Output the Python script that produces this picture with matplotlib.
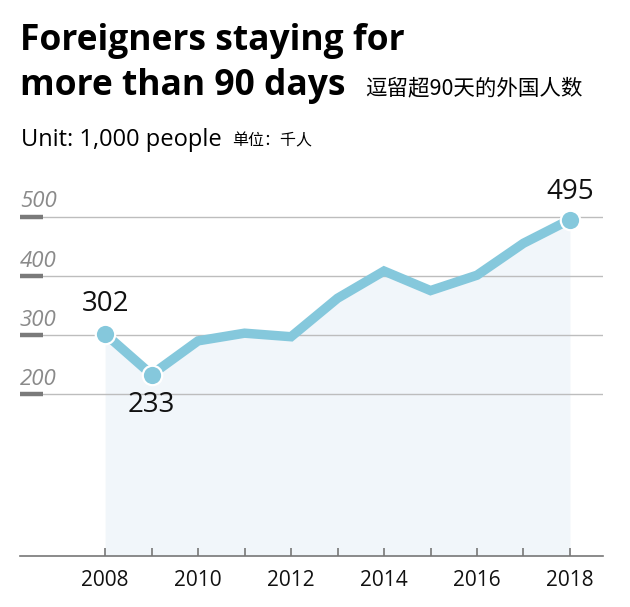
import matplotlib
matplotlib.use("Agg")
import matplotlib.pyplot as plt

# data (unit: 1,000 people)
years = [2008, 2009, 2010, 2011, 2012, 2013, 2014, 2015, 2016, 2017, 2018]
values = [302, 233, 290, 303, 297, 362, 408, 375, 401, 455, 495]
tick_years = [2008, 2010, 2012, 2014, 2016, 2018]
y_ticks = [200, 300, 400, 500]
labelled = {2008: "302", 2009: "233", 2018: "495"}

LINE = "#85c8dc"
FILL = "#f1f6fa"
GRID = "#bdbdbd"

plt.rcParams["font.family"] = ["Open Sans", "Noto Sans CJK SC", "DejaVu Sans"]

fig = plt.figure(figsize=(6.3, 6.07), dpi=100)
ax = fig.add_axes([20 / 630, 51 / 607, 583 / 630, 366 / 607])

ax.set_xlim(2006.17, 2018.71)
ax.set_ylim(-73.6, 545)

# horizontal guides with a short dark dash at the left
for v in y_ticks:
    ax.axhline(v, color=GRID, lw=1, zorder=1)
    ax.plot([2006.17, 2006.67], [v, v], color="#7a7a7a", lw=3.2,
            solid_capstyle="butt", zorder=2)
    ax.text(2006.17, v + 7, str(v), fontsize=16, style="italic",
            color="#8a8a8a", ha="left", va="bottom")

# area, line and end markers
ax.fill_between(years, values, -73.6, color=FILL, lw=0, zorder=0)
ax.plot(years, values, color=LINE, lw=6.8, solid_joinstyle="miter",
        solid_capstyle="butt", zorder=3)
mx = [y for y in years if y in labelled]
my = [values[years.index(y)] for y in mx]
ax.plot(mx, my, "o", color=LINE, ms=14, mec="white", mew=1.6, zorder=4)

offsets = {2008: 50, 2009: -52, 2018: 46}
for y, label in labelled.items():
    v = values[years.index(y)]
    ax.text(y, v + offsets[y], label, fontsize=20, ha="center",
            va="center", color="#111111", zorder=5)

# axes styling
for side in ["left", "right", "top"]:
    ax.spines[side].set_visible(False)
ax.spines["bottom"].set_color("#777777")
ax.spines["bottom"].set_linewidth(1.2)
ax.set_yticks([])
ax.set_xticks(years, minor=False)
ax.set_xticklabels([str(y) if y in tick_years else "" for y in years])
ax.tick_params(axis="x", direction="in", length=6, width=1.2,
               color="#777777", labelsize=15, pad=10, labelcolor="#111111")

# titles
fig.text(20 / 630, 1 - 50 / 607, "Foreigners staying for", fontsize=25.5,
         fontweight="bold", ha="left", va="baseline")
fig.text(20 / 630, 1 - 95 / 607, "more than 90 days", fontsize=25.5,
         fontweight="bold", ha="left", va="baseline")
fig.text(365 / 630, 1 - 94 / 607, "逗留超90天的外国人数", fontsize=15.5,
         family="Noto Sans CJK SC", ha="left", va="baseline")
fig.text(21 / 630, 1 - 146 / 607, "Unit: 1,000 people", fontsize=17,
         ha="left", va="baseline")
fig.text(232 / 630, 1 - 145 / 607, "单位：千人", fontsize=11.5,
         family="Noto Sans CJK SC", ha="left", va="baseline")

fig.savefig("out.png", dpi=100, facecolor="white")
